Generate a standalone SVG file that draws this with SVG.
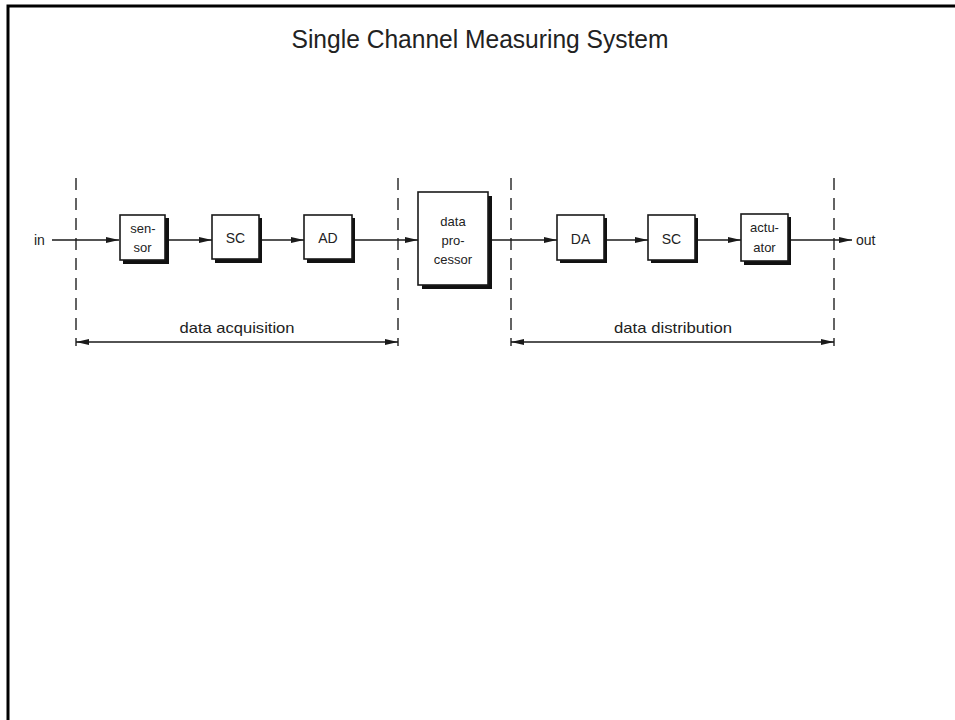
<svg xmlns="http://www.w3.org/2000/svg" width="955" height="720" viewBox="0 0 955 720">
<defs>
<style>
.t{font-family:"Liberation Sans",Arial,sans-serif;fill:#222;}
.box{fill:#fff;stroke:#1a1a1a;stroke-width:1.6;}
.sh{fill:#111;}
.ln{stroke:#1a1a1a;stroke-width:1.4;fill:none;}
.dash{stroke:#222;stroke-width:1.4;stroke-dasharray:12 8;fill:none;}
</style>
<marker id="ah" viewBox="0 0 13 7" refX="13" refY="3.5" markerWidth="13" markerHeight="7" markerUnits="userSpaceOnUse" orient="auto-start-reverse">
<path d="M0,0.5 L13,3.5 L0,6.5 Z" fill="#1a1a1a"/>
</marker>
</defs>
<rect x="0" y="0" width="955" height="720" fill="#fff"/>
<path d="M8,730 L8,6 L960,6" stroke="#000" stroke-width="3" fill="none"/>
<text class="t" x="480" y="48" font-size="25" text-anchor="middle" textLength="377" lengthAdjust="spacingAndGlyphs" fill="#000">Single Channel Measuring System</text>

<g id="boundaries">
<line class="dash" x1="76" y1="178" x2="76" y2="346"/>
<line class="dash" x1="398" y1="178" x2="398" y2="346"/>
<line class="dash" x1="511" y1="178" x2="511" y2="346"/>
<line class="dash" x1="834" y1="178" x2="834" y2="346"/>
</g>

<g id="connectors">
<line class="ln" x1="52" y1="240" x2="119" y2="240" marker-end="url(#ah)"/>
<line class="ln" x1="168" y1="240" x2="212" y2="240" marker-end="url(#ah)"/>
<line class="ln" x1="262" y1="240" x2="304" y2="240" marker-end="url(#ah)"/>
<line class="ln" x1="355" y1="240" x2="418" y2="240" marker-end="url(#ah)"/>
<line class="ln" x1="491" y1="240" x2="557" y2="240" marker-end="url(#ah)"/>
<line class="ln" x1="607" y1="240" x2="648" y2="240" marker-end="url(#ah)"/>
<line class="ln" x1="698" y1="240" x2="741" y2="240" marker-end="url(#ah)"/>
<line class="ln" x1="791" y1="240" x2="852" y2="240" marker-end="url(#ah)"/>
<line class="ln" x1="76" y1="342" x2="398" y2="342" marker-start="url(#ah)" marker-end="url(#ah)"/>
<line class="ln" x1="511" y1="342" x2="834" y2="342" marker-start="url(#ah)" marker-end="url(#ah)"/>
</g>

<g id="in"><text class="t" x="34" y="245" font-size="14">in</text></g>
<g id="out"><text class="t" x="856" y="245" font-size="14">out</text></g>

<g id="sensor">
<rect class="sh" x="123" y="218" width="46" height="46"/>
<rect class="box" x="120" y="215" width="45" height="45"/>
<text class="t" x="143" y="233" font-size="13" text-anchor="middle">sen-</text>
<text class="t" x="142.5" y="252" font-size="13" text-anchor="middle">sor</text>
</g>
<g id="sc1">
<rect class="sh" x="215" y="218" width="47" height="45"/>
<rect class="box" x="212" y="215" width="47" height="44"/>
<text class="t" x="235.5" y="243" font-size="14" text-anchor="middle">SC</text>
</g>
<g id="ad">
<rect class="sh" x="307" y="218" width="48" height="45"/>
<rect class="box" x="304" y="215" width="48" height="44"/>
<text class="t" x="328" y="243" font-size="14" text-anchor="middle">AD</text>
</g>
<g id="processor">
<rect class="sh" x="422" y="196" width="70" height="93"/>
<rect class="box" x="418" y="192" width="70" height="93"/>
<text class="t" x="453" y="226" font-size="13" text-anchor="middle">data</text>
<text class="t" x="453" y="245" font-size="13" text-anchor="middle">pro-</text>
<text class="t" x="453" y="264" font-size="13" text-anchor="middle">cessor</text>
</g>
<g id="da">
<rect class="sh" x="560" y="218" width="47" height="45"/>
<rect class="box" x="557" y="215" width="47" height="45"/>
<text class="t" x="580.5" y="244" font-size="14" text-anchor="middle">DA</text>
</g>
<g id="sc2">
<rect class="sh" x="651" y="218" width="47" height="45"/>
<rect class="box" x="648" y="215" width="47" height="45"/>
<text class="t" x="671.5" y="244" font-size="14" text-anchor="middle">SC</text>
</g>
<g id="actuator">
<rect class="sh" x="744" y="217" width="47" height="48"/>
<rect class="box" x="741" y="214" width="47" height="47"/>
<text class="t" x="764.5" y="232" font-size="13" text-anchor="middle">actu-</text>
<text class="t" x="764.5" y="252" font-size="13" text-anchor="middle">ator</text>
</g>

<g id="labels">
<text class="t" x="237" y="333" font-size="15" text-anchor="middle" textLength="115" lengthAdjust="spacingAndGlyphs">data acquisition</text>
<text class="t" x="673" y="333" font-size="15" text-anchor="middle" textLength="118" lengthAdjust="spacingAndGlyphs">data distribution</text>
</g>
</svg>
